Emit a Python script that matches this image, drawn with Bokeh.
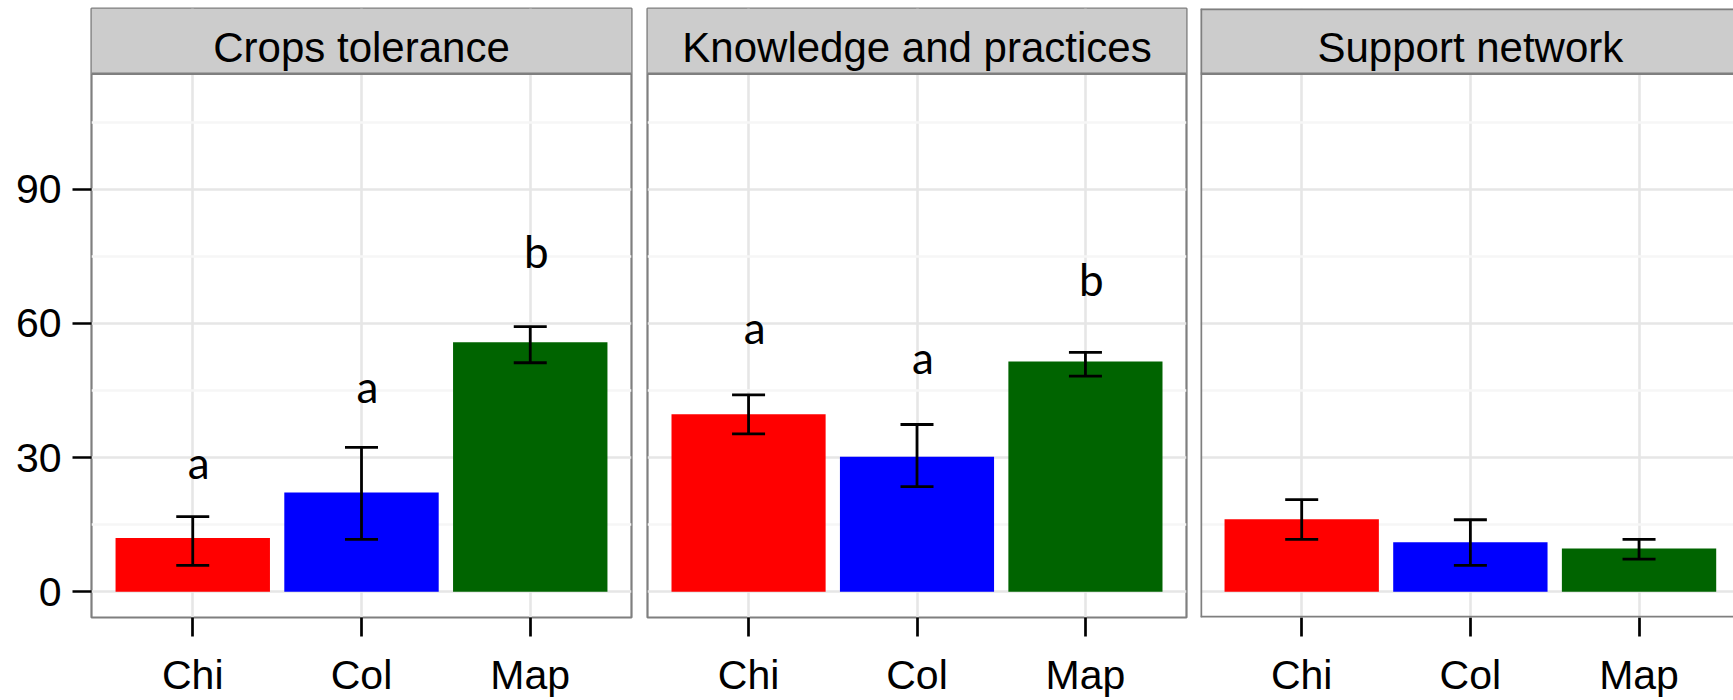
from bokeh.plotting import figure
from bokeh.layouts import row
from bokeh.models import (ColumnDataSource, Range1d, FixedTicker, Grid, Whisker,
                          TeeHead, Span, BoxAnnotation, Label)
from bokeh.core.properties import value
from bokeh.embed import file_html
from bokeh.resources import INLINE

# ---------------- data ----------------
categories = ["Chi", "Col", "Map"]
panel_titles = ["Crops tolerance", "Knowledge and practices", "Support network"]
bar_colors = ["#ff0000", "#0000ff", "#006400"]

crops_mean = [12.0, 22.2, 55.8]
crops_lower = [5.9, 11.7, 51.2]
crops_upper = [16.8, 32.3, 59.3]
crops_letters = ["a", "a", "b"]
crops_letter_y = [24.9, 41.9, 72.0]

knowledge_mean = [39.7, 30.2, 51.5]
knowledge_lower = [35.3, 23.5, 48.2]
knowledge_upper = [44.0, 37.4, 53.5]
knowledge_letters = ["a", "a", "b"]
knowledge_letter_y = [55.1, 48.2, 65.8]

support_mean = [16.2, 11.1, 9.7]
support_lower = [11.7, 5.9, 7.3]
support_upper = [20.6, 16.1, 11.7]
support_letters = []
support_letter_y = []

y_ticks = [0, 30, 60, 90]
y_minor_ticks = [15, 45, 75, 105]

# ---------------- layout / style ----------------
Y_LO = -5.75
PANEL_TOP = 115.8
Y_HI = 130.4
STRIP_TEXT_Y = 121.6
LETTER_BASELINE_FIX = 4.2
X_LO = 0.4
X_HI = 3.6
X_HI_LAST = 3.56

FIG_H = 700
BORDER_GRAY = "#7f7f7f"
STRIP_FILL = "#cccccc"
GRID_MAJOR = "#e6e6e6"
GRID_MINOR = "#f6f6f6"
AX_FONT = "Liberation Sans"
AX_SIZE = "41px"
STRIP_SIZE = "42px"


def make_panel(title, mean, lower, upper, letters, letter_y,
               width, mbl, mbr, x_end, show_y, full_outline):
    xs = [i + 1 for i in range(len(categories))]
    p = figure(width=width, height=FIG_H, output_backend="svg",
               toolbar_location=None,
               x_range=Range1d(X_LO, x_end), y_range=Range1d(Y_LO, Y_HI),
               y_axis_location="left" if show_y else None,
               min_border_left=mbl, min_border_right=mbr,
               min_border_top=8, min_border_bottom=80)
    p.background_fill_color = "white"
    p.border_fill_color = "white"
    if full_outline:
        p.outline_line_color = BORDER_GRAY
        p.outline_line_width = 2.2
    else:
        p.outline_line_color = None

    for g in p.grid:
        g.visible = False
    p.add_layout(Grid(dimension=0, ticker=FixedTicker(ticks=xs),
                      grid_line_color=GRID_MAJOR, grid_line_width=2.6), "center")
    p.add_layout(Grid(dimension=1,
                      ticker=FixedTicker(ticks=y_ticks, minor_ticks=y_minor_ticks),
                      grid_line_color=GRID_MAJOR, grid_line_width=2.6,
                      minor_grid_line_color=GRID_MINOR, minor_grid_line_width=2.6),
                 "center")

    src = ColumnDataSource(dict(x=xs, cat=categories, mean=mean, lo=lower, hi=upper,
                                color=bar_colors))
    p.vbar(x="x", top="mean", bottom=0, width=0.915, source=src,
           fill_color="color", line_color=None)
    p.add_layout(Whisker(base="x", upper="hi", lower="lo", source=src,
                         level="overlay",
                         line_color="black", line_width=2.8,
                         upper_head=TeeHead(size=33, line_width=2.8, line_color="black"),
                         lower_head=TeeHead(size=33, line_width=2.8, line_color="black")))

    if letters:
        lsrc = ColumnDataSource(dict(x=xs, y=[v + LETTER_BASELINE_FIX for v in letter_y],
                                     t=letters))
        p.text(x="x", y="y", text="t", source=lsrc, text_align="center",
               text_baseline="alphabetic", text_font=value("Lato"),
               text_font_size="44px", text_color="black", x_offset=6)

    # facet strip
    p.add_layout(BoxAnnotation(bottom=PANEL_TOP, fill_color=STRIP_FILL,
                               fill_alpha=1.0, line_color=None))
    p.add_layout(Span(location=PANEL_TOP, dimension="width",
                      line_color=BORDER_GRAY, line_width=2.4))
    if not full_outline:
        for loc, dim in ((X_LO, "height"), (Y_LO, "width"), (Y_HI, "width")):
            p.add_layout(Span(location=loc, dimension=dim,
                              line_color=BORDER_GRAY, line_width=3.4))
    p.add_layout(Label(x=(X_LO + X_HI) / 2, y=STRIP_TEXT_Y, text=title,
                       text_align="center", text_baseline="alphabetic",
                       text_font=AX_FONT, text_font_size=STRIP_SIZE,
                       text_color="black"))

    ax = p.xaxis[0]
    ax.ticker = FixedTicker(ticks=xs)
    ax.major_label_overrides = {x: c for x, c in zip(xs, categories)}
    ax.major_tick_out = 19
    ax.major_tick_in = 0
    ax.major_tick_line_color = "black"
    ax.major_tick_line_width = 2.7
    ax.minor_tick_line_color = None
    ax.axis_line_color = None
    ax.major_label_text_font = AX_FONT
    ax.major_label_text_font_size = AX_SIZE
    ax.major_label_text_color = "black"
    ax.major_label_standoff = 15

    if show_y:
        ay = p.yaxis[0]
        ay.ticker = FixedTicker(ticks=y_ticks)
        ay.major_tick_out = 19
        ay.major_tick_in = 0
        ay.major_tick_line_color = "black"
        ay.major_tick_line_width = 2.7
        ay.minor_tick_line_color = None
        ay.axis_line_color = None
        ay.major_label_text_font = AX_FONT
        ay.major_label_text_font_size = AX_SIZE
        ay.major_label_text_color = "black"
        ay.major_label_standoff = 11
    return p


p1 = make_panel(panel_titles[0], crops_mean, crops_lower, crops_upper,
                crops_letters, crops_letter_y, 639, 91, 8, X_HI, True, True)
p2 = make_panel(panel_titles[1], knowledge_mean, knowledge_lower, knowledge_upper,
                knowledge_letters, knowledge_letter_y, 554, 8, 7, X_HI, False, True)
p3 = make_panel(panel_titles[2], support_mean, support_lower, support_upper,
                support_letters, support_letter_y, 540, 7, 0, X_HI_LAST, False, False)

layout = row(p1, p2, p3)
open("out.html", "w").write(file_html(layout, INLINE))
